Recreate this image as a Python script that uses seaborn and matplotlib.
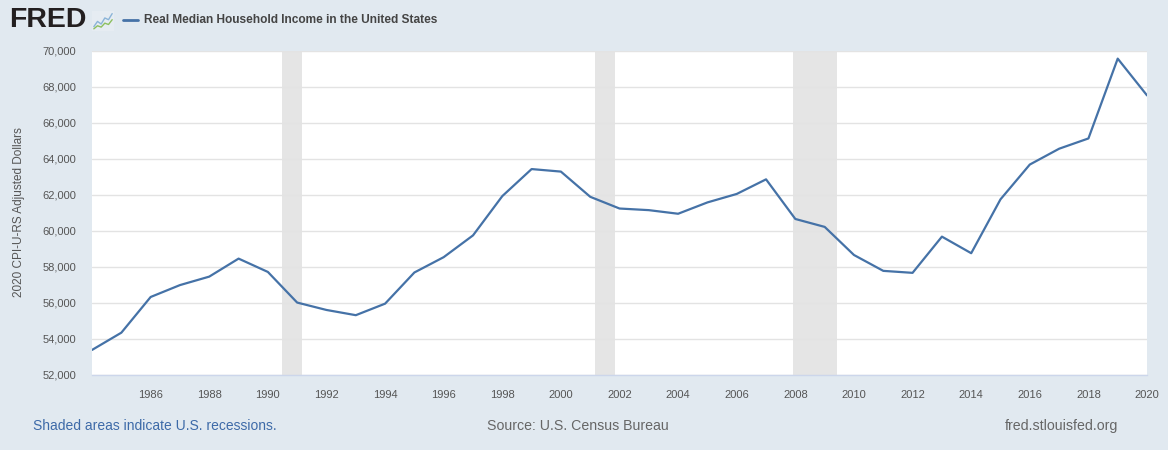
import pandas as pd
import seaborn as sns
import matplotlib.pyplot as plt
import matplotlib.dates as mdates
from matplotlib.ticker import FuncFormatter

# Real median household income, 2020 CPI-U-RS adjusted dollars
years = list(range(1984, 2021))
income = [53390, 54350, 56330, 56990, 57460, 58460, 57720, 56020, 55610, 55320,
          55960, 57690, 58540, 59750, 61930, 63430, 63290, 61890, 61240, 61150,
          60950, 61580, 62050, 62860, 60660, 60220, 58660, 57780, 57670, 59680,
          58760, 61750, 63680, 64560, 65130, 69560, 67520]

# NBER recessions (peak, trough)
recession_start = ["1990-07-01", "2001-03-01", "2007-12-01"]
recession_end = ["1991-03-01", "2001-11-01", "2009-06-01"]

tick_years = list(range(1986, 2021, 2))
y_ticks = list(range(52000, 70001, 2000))

series_name = "Real Median Household Income in the United States"
y_label = "2020 CPI-U-RS Adjusted Dollars"

bg = "#e1e9f0"
line_color = "#4572a7"

sns.set_theme(style="white")
plt.rcParams["font.family"] = ["Liberation Sans", "DejaVu Sans"]

df = pd.DataFrame({"date": pd.to_datetime([f"{y}-01-01" for y in years]),
                   "value": income})

fig = plt.figure(figsize=(11.68, 4.5), dpi=100, facecolor=bg)
W, H = 1168, 450
ax = fig.add_axes([92 / W, (H - 375) / H, (1147 - 92) / W, (375 - 50.7) / H])
ax.set_facecolor("white")

for s, e in zip(recession_start, recession_end):
    ax.axvspan(pd.Timestamp(s), pd.Timestamp(e), color="#e5e5e5", lw=0, zorder=0)

sns.lineplot(data=df, x="date", y="value", ax=ax, color=line_color,
             linewidth=1.6, zorder=3)

ax.set_xlim(pd.Timestamp("1984-01-01"), pd.Timestamp("2020-01-01"))
ax.set_ylim(52000, 70000)
ax.set_xticks(pd.to_datetime([f"{y}-01-01" for y in tick_years]))
ax.xaxis.set_major_formatter(mdates.DateFormatter("%Y"))
ax.set_yticks(y_ticks)
ax.yaxis.set_major_formatter(FuncFormatter(lambda v, p: f"{int(v):,}"))

ax.grid(axis="y", color="#e3e3e3", linewidth=1.0, zorder=1)
ax.grid(axis="x", visible=False)
ax.set_axisbelow(True)

for side in ["left", "right", "top"]:
    ax.spines[side].set_visible(False)
ax.spines["bottom"].set_color("#ccd6eb")
ax.spines["bottom"].set_linewidth(1.0)

ax.tick_params(axis="x", length=7, width=1, color="#ccd6eb", pad=4,
               labelsize=8, labelcolor="#555555")
ax.tick_params(axis="y", length=0, pad=11.5, labelsize=8, labelcolor="#555555")
ax.set_xlabel("")
ax.set_ylabel("")

fig.text(19 / W, 1 - 212 / H, y_label, rotation=90, ha="center", va="center",
         fontsize=8.5, color="#555555")

# header: FRED logo and legend
fig.text(9 / W, 1 - 20 / H, "FRED", ha="left", va="center", fontsize=20.5,
         fontweight="heavy", color="#231f20")
icon = fig.add_axes([92 / W, 1 - 31 / H, 22 / W, 20 / H])
icon.set_facecolor("#e6ecf2")
icon.plot([0, 1, 2, 3, 4, 5], [1, 2.2, 1.6, 3, 2.6, 4], color="#8bb4d8", lw=1)
icon.plot([0, 1, 2, 3, 4, 5], [0.5, 1.2, 0.9, 1.8, 1.5, 2.6], color="#8cbf5f", lw=1)
icon.set_xlim(-0.5, 5.5)
icon.set_ylim(0, 4.6)
icon.set_xticks([])
icon.set_yticks([])
for sp in icon.spines.values():
    sp.set_visible(False)

fig.add_artist(plt.Line2D([123 / W, 138 / W], [1 - 20 / H, 1 - 20 / H],
                          color=line_color, lw=2, transform=fig.transFigure))
fig.text(144 / W, 1 - 20 / H, series_name, ha="left", va="center",
         fontsize=8.6, fontweight="bold", color="#444444")

# footer
fig.text(33 / W, 1 - 426 / H, "Shaded areas indicate U.S. recessions.",
         ha="left", va="center", fontsize=10.0, color="#3d6aa8")
fig.text(578 / W, 1 - 426 / H, "Source: U.S. Census Bureau",
         ha="center", va="center", fontsize=10.2, color="#666666")
fig.text(1118 / W, 1 - 426 / H, "fred.stlouisfed.org",
         ha="right", va="center", fontsize=10.2, color="#666666")

fig.savefig("out.png", dpi=100, facecolor=bg)
plt.close(fig)
